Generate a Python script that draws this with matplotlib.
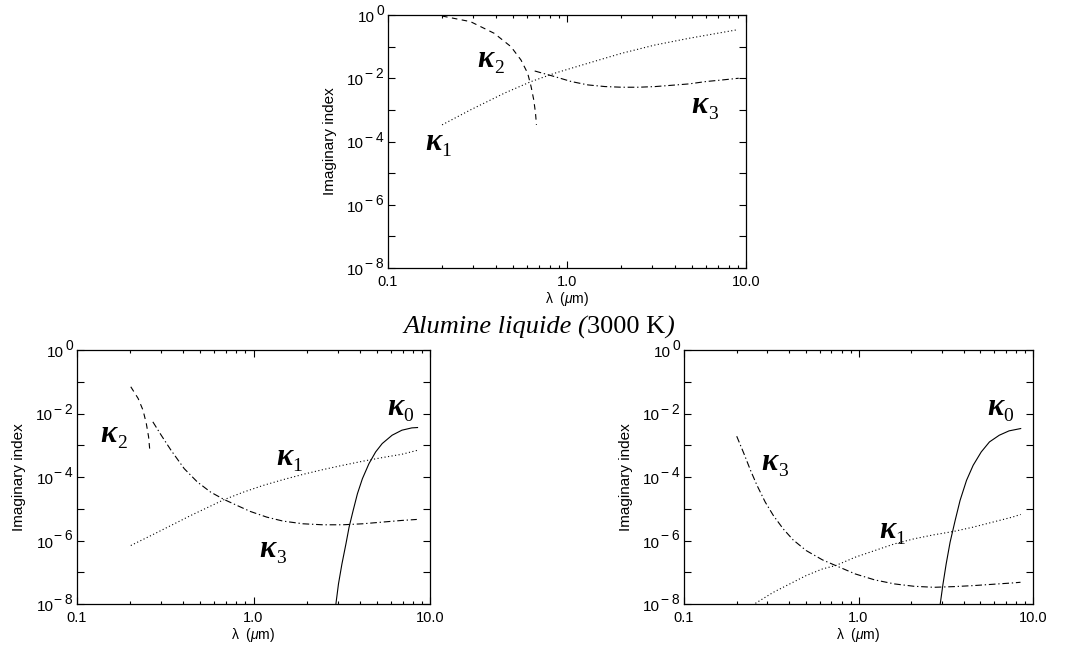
import numpy as np
import matplotlib.pyplot as plt
from matplotlib.ticker import FixedLocator, FixedFormatter, LogLocator, NullFormatter

plt.rcParams['font.family'] = ['Liberation Sans', 'DejaVu Sans']
plt.rcParams['mathtext.fontset'] = 'custom'
plt.rcParams['mathtext.rm'] = 'Liberation Sans'
plt.rcParams['mathtext.it'] = 'Liberation Sans:italic'

# wavelengths in micron, imaginary index given as log10 values

# --- top panel ---
top_k2_x = [0.2005, 0.289, 0.392, 0.486, 0.553, 0.603, 0.630, 0.652, 0.667, 0.675]
top_k2_logy = [-0.032, -0.21, -0.579, -1.0, -1.421, -1.842, -2.263, -2.684, -3.105, -3.474]
top_k1_x = [0.2005, 0.289, 0.446, 0.630, 0.852, 1.31, 2.02, 3.11, 4.80, 8.79]
top_k1_logy = [-3.474, -3.0, -2.474, -2.105, -1.842, -1.526, -1.211, -0.947, -0.737, -0.474]
top_k3_x = [0.66, 0.852, 1.058, 1.31, 1.63, 2.02, 2.51, 3.11, 3.87, 4.80, 5.96, 7.39, 9.1]
top_k3_logy = [-1.77, -1.947, -2.105, -2.211, -2.263, -2.284, -2.284, -2.263,
               -2.221, -2.179, -2.105, -2.053, -2.0]

# --- bottom left ---
bl_k2_x = [0.2017, 0.222, 0.2366, 0.247, 0.2545, 0.259]
bl_k2_logy = [-1.158, -1.526, -1.895, -2.316, -2.737, -3.211]
bl_k3_x = [0.269, 0.300, 0.341, 0.405, 0.481, 0.571, 0.679, 0.806, 0.958, 1.188,
           1.47, 1.91, 2.47, 3.20, 4.14, 5.36, 6.93, 8.42]
bl_k3_logy = [-2.263, -2.684, -3.158, -3.737, -4.158, -4.474, -4.705, -4.895, -5.084,
              -5.263, -5.389, -5.474, -5.505, -5.505, -5.474, -5.421, -5.368, -5.337]
bl_k1_x = [0.2017, 0.263, 0.341, 0.4415, 0.571, 0.679, 0.879, 1.138, 1.47, 1.91,
           2.47, 3.20, 4.14, 5.36, 6.93, 8.5]
bl_k1_logy = [-6.158, -5.842, -5.526, -5.211, -4.916, -4.716, -4.474, -4.263, -4.084,
              -3.916, -3.768, -3.632, -3.505, -3.389, -3.284, -3.158]
bl_k0_x = [2.93, 3.03, 3.17, 3.34, 3.48, 3.67, 3.88, 4.14, 4.51, 4.92, 5.36, 6.10,
           6.93, 7.89, 8.5]
bl_k0_logy = [-8.0, -7.368, -6.737, -6.105, -5.579, -5.053, -4.526, -4.053, -3.579,
              -3.211, -2.947, -2.684, -2.526, -2.453, -2.442]

# --- bottom right ---
br_k3_x = [0.2005, 0.2205, 0.2405, 0.262, 0.292, 0.325, 0.370, 0.4217, 0.501, 0.622,
           0.740, 0.958, 1.24, 1.61, 2.08, 2.70, 3.50, 4.54, 5.88, 7.62, 8.48]
br_k3_logy = [-2.716, -3.263, -3.789, -4.263, -4.789, -5.211, -5.632, -5.979, -6.316,
              -6.611, -6.789, -7.053, -7.242, -7.368, -7.442, -7.474, -7.453, -7.421,
              -7.379, -7.337, -7.316]
br_k1_x = [0.2565, 0.325, 0.4036, 0.501, 0.622, 0.740, 0.958, 1.24, 1.61, 2.08, 2.70,
           3.50, 4.54, 5.88, 7.62, 8.5]
br_k1_logy = [-7.979, -7.632, -7.368, -7.105, -6.895, -6.789, -6.526, -6.316, -6.105,
              -5.947, -5.821, -5.716, -5.579, -5.421, -5.263, -5.179]
br_k0_x = [2.94, 3.05, 3.18, 3.35, 3.58, 3.82, 4.16, 4.54, 5.05, 5.63, 6.41, 7.29, 8.5]
br_k0_logy = [-8.0, -7.368, -6.737, -6.05, -5.368, -4.737, -4.105, -3.632, -3.211,
              -2.895, -2.684, -2.547, -2.474]

xtick_vals = [0.1, 1.0, 10.0]
xtick_text = ['0.1', '1.0', '10.0']
ytick_exps = [0, -1, -2, -3, -4, -5, -6, -7, -8]

fig = plt.figure(figsize=(10.66, 6.46), dpi=100)
renderer = fig.canvas.get_renderer()
W, H = 1066.0, 646.0

lw = 0.8
dashed = (0, (5, 4))
dotted = (0, (1, 2.2))
dashdot = (0, (6, 2.5, 1.2, 2.5))


def setup_axes(ax):
    ax.set_xscale('log')
    ax.set_yscale('log')
    ax.set_xlim(0.1, 10.0)
    ax.set_ylim(1e-8, 1.0)
    ax.xaxis.set_major_locator(FixedLocator(xtick_vals))
    ax.xaxis.set_major_formatter(FixedFormatter(xtick_text))
    ax.xaxis.set_minor_locator(LogLocator(base=10, subs=range(2, 10)))
    ax.xaxis.set_minor_formatter(NullFormatter())
    ax.yaxis.set_major_locator(FixedLocator([10.0 ** e for e in ytick_exps]))
    ax.yaxis.set_major_formatter(NullFormatter())
    ax.yaxis.set_minor_locator(FixedLocator([]))
    ax.tick_params(which='both', direction='in', top=True, right=True,
                   width=0.8, colors='black')
    ax.tick_params(which='major', length=5)
    ax.tick_params(which='minor', length=2.5)
    ax.tick_params(axis='x', pad=5, labelsize=10.5)
    for s in ax.spines.values():
        s.set_linewidth(0.9)
    ax.set_xlabel(r'λ  ($\mathit{\mu}$m)', fontsize=10, labelpad=1)
    ax.set_ylabel('Imaginary index', fontsize=11)
    w_px = ax.get_position().width * W
    ax.yaxis.set_label_coords(-51 / w_px, 0.5)

    # IDL-like labels: "10" with a large exponent, every second decade
    for e in ytick_exps[::2]:
        ex = ax.annotate('\u2212\u2009%d' % -e if e < 0 else '%d' % e,
                         xy=(0, 10.0 ** e), xycoords=('axes fraction', 'data'),
                         xytext=(-4, 0), textcoords='offset pixels',
                         ha='right', va='baseline', fontsize=10,
                         annotation_clip=False)
        w = ex.get_window_extent(renderer).width
        ax.annotate('10', xy=(0, 10.0 ** e), xycoords=('axes fraction', 'data'),
                    xytext=(-5 - w, -7), textcoords='offset pixels',
                    ha='right', va='baseline', fontsize=11,
                    annotation_clip=False)


def klabel(x, y, n):
    # x = left edge, y = baseline of the kappa, both in pixels from top-left
    t = fig.text(x / W, 1 - y / H, 'κ', fontsize=22, family='Liberation Serif',
                 style='italic', fontweight='bold', ha='left', va='baseline')
    bb = t.get_window_extent(renderer)
    fig.text((bb.x1 + 0.5) / W, 1 - (y + 6) / H, str(n), fontsize=14,
             family='Liberation Serif', ha='left', va='baseline')


def curve(ax, xs, logy, ls):
    ax.plot(xs, np.power(10.0, logy), color='black', lw=lw, linestyle=ls)


# top
ax1 = fig.add_axes([388 / W, 1 - 268 / H, 358 / W, 253 / H])
setup_axes(ax1)
curve(ax1, top_k2_x, top_k2_logy, dashed)
curve(ax1, top_k1_x, top_k1_logy, dotted)
curve(ax1, top_k3_x, top_k3_logy, dashdot)
klabel(477, 67, 2)
klabel(425, 150, 1)
klabel(691, 113, 3)

# title in between the rows
ty = 1 - 327 / H
t1 = fig.text(403 / W, ty, 'Alumine liquide (', fontsize=19,
              family='Liberation Serif', style='italic', ha='left', va='center')
bb = t1.get_window_extent(renderer)
t2 = fig.text(bb.x1 / W, ty, '3000 K', fontsize=19,
              family='Liberation Serif', ha='left', va='center')
bb2 = t2.get_window_extent(renderer)
fig.text(bb2.x1 / W, ty, ')', fontsize=19,
         family='Liberation Serif', style='italic', ha='left', va='center')

# bottom left
ax2 = fig.add_axes([77 / W, 1 - 604 / H, 353 / W, 254 / H])
setup_axes(ax2)
curve(ax2, bl_k2_x, bl_k2_logy, dashed)
curve(ax2, bl_k3_x, bl_k3_logy, dashdot)
curve(ax2, bl_k1_x, bl_k1_logy, dotted)
curve(ax2, bl_k0_x, bl_k0_logy, '-')
klabel(100, 442, 2)
klabel(276, 465, 1)
klabel(387, 415, 0)
klabel(259, 557, 3)

# bottom right
ax3 = fig.add_axes([684 / W, 1 - 604 / H, 349 / W, 254 / H])
setup_axes(ax3)
curve(ax3, br_k3_x, br_k3_logy, dashdot)
curve(ax3, br_k1_x, br_k1_logy, dotted)
curve(ax3, br_k0_x, br_k0_logy, '-')
klabel(761, 470, 3)
klabel(879, 538, 1)
klabel(987, 415, 0)

fig.savefig('out.png', dpi=100)
